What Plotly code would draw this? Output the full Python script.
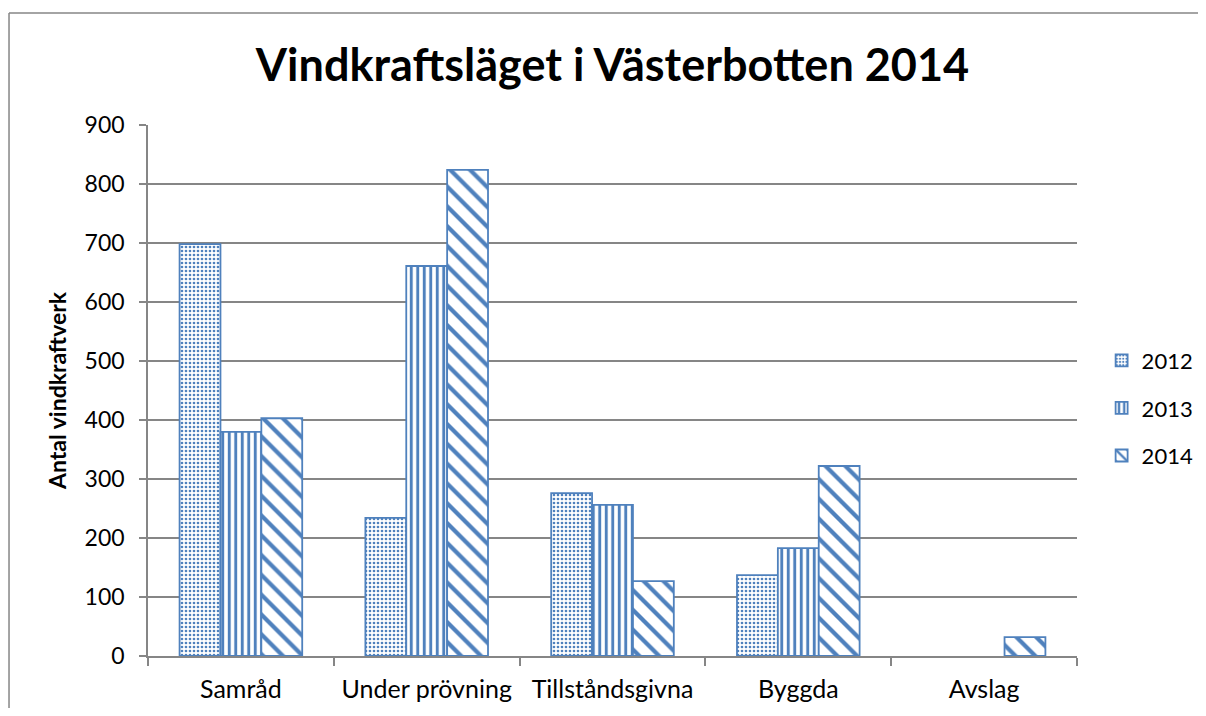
import plotly.graph_objects as go

categories = ["Samråd", "Under prövning", "Tillståndsgivna", "Byggda", "Avslag"]
years = ["2012", "2013", "2014"]
v2012 = [698, 234, 276, 137, None]
v2013 = [380, 661, 256, 183, None]
v2014 = [403, 824, 127, 322, 32]
y_ticks = [0, 100, 200, 300, 400, 500, 600, 700, 800, 900]

BLUE = "#4F81BD"
GRID = "#868686"
FONT = "Lato, 'Open Sans', sans-serif"

series = [v2012, v2013, v2014]
patterns = [
    dict(shape=".", size=4, solidity=0.35),
    dict(shape="|", size=6.5, solidity=0.45),
    dict(shape="\\", size=14, solidity=0.3),
]

fig = go.Figure()
for yr, vals, pat in zip(years, series, patterns):
    fig.add_trace(go.Bar(
        name=yr, x=categories, y=vals, legendgroup=yr,
        marker=dict(color="white",
                    line=dict(color=BLUE, width=1.8),
                    pattern=dict(shape=pat["shape"], size=pat["size"], solidity=pat["solidity"],
                                 fgcolor=BLUE, bgcolor="white", fillmode="replace")),
    ))

# page body has an 8px margin, so the figure is drawn 16px smaller and shifted
fig.update_layout(
    width=1190, height=700,
    margin=dict(l=140, r=121, t=117, b=52, autoexpand=False),
    paper_bgcolor="white", plot_bgcolor="white",
    barmode="group", bargap=0.34, bargroupgap=0,
    font=dict(family=FONT, size=23, color="black"),
    title=dict(text="<b>Vindkraftsläget i Västerbotten 2014</b>",
               font=dict(family=FONT, size=45, color="black"),
               x=0.5, xref="paper", xanchor="center", y=0.918, yanchor="middle"),
    legend=dict(x=1.0265, xanchor="left", y=0.467, yanchor="middle",
                font=dict(size=22), tracegroupgap=16, itemwidth=30,
                bgcolor="rgba(0,0,0,0)"),
    xaxis=dict(showline=True, linecolor=GRID, linewidth=1.5,
               ticks="outside", tickson="boundaries", ticklen=8, tickcolor=GRID, tickwidth=1.5,
               tickfont=dict(size=25), showgrid=False, ticklabelstandoff=10),
    yaxis=dict(range=[0, 900], tickvals=y_ticks, showline=True, linecolor=GRID, linewidth=1.5,
               ticks="outside", ticklen=7, tickcolor=GRID, tickwidth=1.5,
               showgrid=True, gridcolor=GRID, gridwidth=1.5, zeroline=False,
               tickfont=dict(size=23), ticklabelstandoff=10,
               title=dict(text="<b>Antal vindkraftverk</b>", font=dict(size=23), standoff=12)),
    shapes=[
        dict(type="line", xref="paper", yref="paper",
             x0=-0.1496, x1=1.3, y0=1.2109, y1=1.2109, line=dict(color=GRID, width=1.5), layer="below"),
        dict(type="line", xref="paper", yref="paper",
             x0=-0.1496, x1=-0.1496, y0=-0.3, y1=1.2109, line=dict(color=GRID, width=1.5), layer="below"),
    ],
)

fig.write_html("out.html")
